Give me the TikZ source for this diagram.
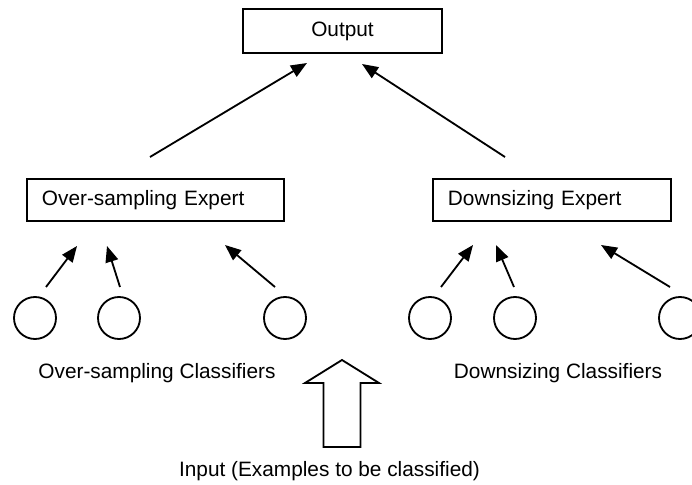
\documentclass[tikz,border=0pt]{standalone}
\usepackage{fontspec}
\setmainfont{Liberation Sans}
\usetikzlibrary{arrows.meta}
\tikzstyle{box} = [draw, line width=1.3pt, rectangle, inner sep=0pt]
\tikzstyle{classifier} = [draw, line width=1.3pt, circle, minimum size=1.05cm, inner sep=0pt]
\tikzstyle{link} = [line width=1.3pt, -{Triangle[length=0.4cm, width=0.32cm]}]

\begin{document}
\begin{tikzpicture}[x=0.025cm, y=-0.025cm, font=\fontsize{14.8}{17}\selectfont]
        \useasboundingbox (0,0) rectangle (692,485);

        % Output and experts
        \node[box, minimum width=4.975cm, minimum height=1.1cm] (output) at (342.5,31) {Output};
        \node[box, anchor=west, minimum height=1.05cm, text width=5.675cm, inner xsep=0.375cm, align=left] (overexpert) at (26,200) {Over-sampling Expert};
        \node[box, anchor=west, minimum height=1.05cm, text width=5.2cm, inner xsep=0.375cm, align=left] (downexpert) at (432,200) {Downsizing Expert};

        % Classifiers
        \node[classifier] (over1) at (35,318) {};
        \node[classifier] (over2) at (119,318) {};
        \node[classifier] (over3) at (285,318) {};
        \node[classifier] (down1) at (430,318) {};
        \node[classifier] (down2) at (515,318) {};
        \node[classifier] (down3) at (680,318) {};

        % Arrow ends
        \coordinate (overout) at (150,157);
        \coordinate (overin) at (307,63);
        \coordinate (downout) at (505,157);
        \coordinate (downin) at (362,64);
        \coordinate (over1out) at (46,287);
        \coordinate (over1in) at (77,246);
        \coordinate (over2out) at (120,287);
        \coordinate (over2in) at (107,246);
        \coordinate (over3out) at (275,287);
        \coordinate (over3in) at (225,245);
        \coordinate (down1out) at (441,287);
        \coordinate (down1in) at (473,245);
        \coordinate (down2out) at (514,287);
        \coordinate (down2in) at (496,245);
        \coordinate (down3out) at (670,287);
        \coordinate (down3in) at (601,245);

        % Arrows
        \draw[link] (overout) -- (overin);
        \draw[link] (downout) -- (downin);
        \draw[link] (over1out) -- (over1in);
        \draw[link] (over2out) -- (over2in);
        \draw[link] (over3out) -- (over3in);
        \draw[link] (down1out) -- (down1in);
        \draw[link] (down2out) -- (down2in);
        \draw[link] (down3out) -- (down3in);

        % Input arrow
        \draw[line width=1.3pt] (323.5,447) -- (323.5,383) -- (305,383) -- (342,360) -- (379,383) -- (360.5,383) -- (360.5,447) -- cycle;

        % Labels
        \node[anchor=base] (overlabel) at (157,378) {Over-sampling Classifiers};
        \node[anchor=base] (downlabel) at (558,378) {Downsizing Classifiers};
        \node[anchor=base] (inputlabel) at (329.5,476) {Input (Examples to be classified)};
    \end{tikzpicture}
\end{document}
